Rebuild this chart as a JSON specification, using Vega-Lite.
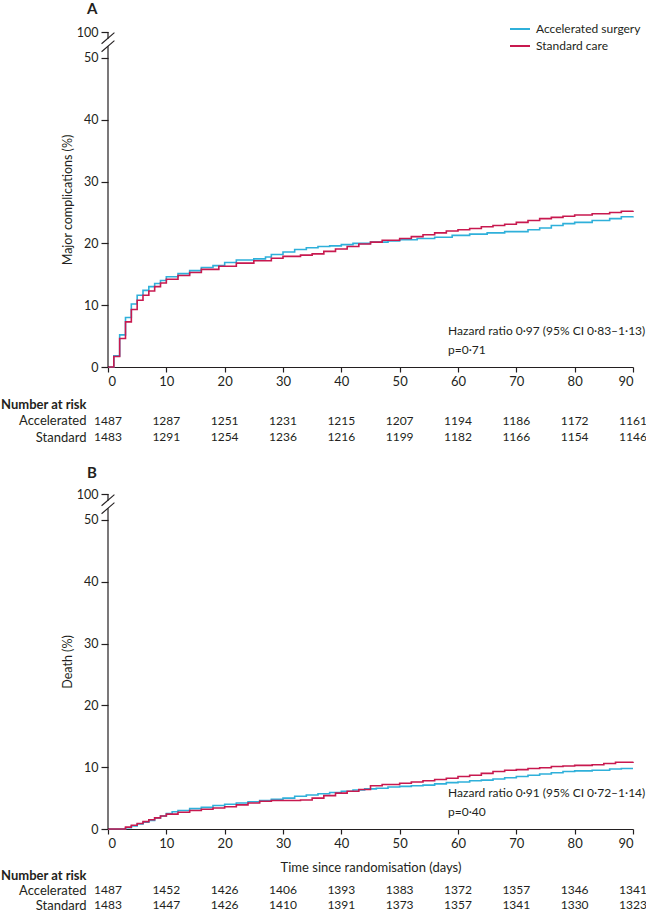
{
  "$schema": "https://vega.github.io/schema/vega-lite/v6.json",
  "padding": {"left": 0, "top": 2, "right": 0, "bottom": 0},
  "config": {
    "font": "Lato",
    "view": {"stroke": null},
    "axis": {"labelFont": "Lato", "titleFont": "Lato", "labelColor": "#231f20", "titleColor": "#231f20", "domainColor": "#231f20", "tickColor": "#231f20", "grid": false, "labelFontSize": 12.5, "titleFontSize": 12.5, "titleFontWeight": "normal", "domainWidth": 1.2, "tickWidth": 1.2},
    "legend": {"labelFont": "Lato", "labelColor": "#231f20"},
    "title": {"font": "Lato", "color": "#231f20"},
    "text": {"font": "Lato"}
  },
  "datasets": {
    "kmA": [
      {"group": "Accelerated surgery", "day": 0, "pct": 0}, {"group": "Accelerated surgery", "day": 1, "pct": 1.8}, {"group": "Accelerated surgery", "day": 2, "pct": 5.2}, {"group": "Accelerated surgery", "day": 3, "pct": 8.0}, {"group": "Accelerated surgery", "day": 4, "pct": 10.2}, {"group": "Accelerated surgery", "day": 5, "pct": 11.6}, {"group": "Accelerated surgery", "day": 6, "pct": 12.4}, {"group": "Accelerated surgery", "day": 7, "pct": 13.0}, {"group": "Accelerated surgery", "day": 8, "pct": 13.5}, {"group": "Accelerated surgery", "day": 9, "pct": 14.0}, {"group": "Accelerated surgery", "day": 10, "pct": 14.6}, {"group": "Accelerated surgery", "day": 12, "pct": 15.1}, {"group": "Accelerated surgery", "day": 14, "pct": 15.6}, {"group": "Accelerated surgery", "day": 16, "pct": 16.1}, {"group": "Accelerated surgery", "day": 18, "pct": 16.4}, {"group": "Accelerated surgery", "day": 20, "pct": 16.9}, {"group": "Accelerated surgery", "day": 22, "pct": 17.3}, {"group": "Accelerated surgery", "day": 25, "pct": 17.5}, {"group": "Accelerated surgery", "day": 27, "pct": 17.8}, {"group": "Accelerated surgery", "day": 28, "pct": 18.2}, {"group": "Accelerated surgery", "day": 30, "pct": 18.6}, {"group": "Accelerated surgery", "day": 32, "pct": 19.0}, {"group": "Accelerated surgery", "day": 34, "pct": 19.3}, {"group": "Accelerated surgery", "day": 36, "pct": 19.5}, {"group": "Accelerated surgery", "day": 38, "pct": 19.6}, {"group": "Accelerated surgery", "day": 40, "pct": 19.8}, {"group": "Accelerated surgery", "day": 42, "pct": 20.0}, {"group": "Accelerated surgery", "day": 45, "pct": 20.2}, {"group": "Accelerated surgery", "day": 48, "pct": 20.4}, {"group": "Accelerated surgery", "day": 50, "pct": 20.6}, {"group": "Accelerated surgery", "day": 53, "pct": 20.8}, {"group": "Accelerated surgery", "day": 56, "pct": 21.0}, {"group": "Accelerated surgery", "day": 59, "pct": 21.3}, {"group": "Accelerated surgery", "day": 62, "pct": 21.5}, {"group": "Accelerated surgery", "day": 65, "pct": 21.7}, {"group": "Accelerated surgery", "day": 68, "pct": 21.9}, {"group": "Accelerated surgery", "day": 72, "pct": 22.2}, {"group": "Accelerated surgery", "day": 74, "pct": 22.5}, {"group": "Accelerated surgery", "day": 76, "pct": 22.9}, {"group": "Accelerated surgery", "day": 78, "pct": 23.2}, {"group": "Accelerated surgery", "day": 80, "pct": 23.4}, {"group": "Accelerated surgery", "day": 83, "pct": 23.7}, {"group": "Accelerated surgery", "day": 86, "pct": 24.0}, {"group": "Accelerated surgery", "day": 88, "pct": 24.3}, {"group": "Accelerated surgery", "day": 90, "pct": 24.4},
      {"group": "Standard care", "day": 0, "pct": 0}, {"group": "Standard care", "day": 1, "pct": 1.7}, {"group": "Standard care", "day": 2, "pct": 4.6}, {"group": "Standard care", "day": 3, "pct": 7.3}, {"group": "Standard care", "day": 4, "pct": 9.3}, {"group": "Standard care", "day": 5, "pct": 10.8}, {"group": "Standard care", "day": 6, "pct": 11.6}, {"group": "Standard care", "day": 7, "pct": 12.3}, {"group": "Standard care", "day": 8, "pct": 13.0}, {"group": "Standard care", "day": 9, "pct": 13.6}, {"group": "Standard care", "day": 10, "pct": 14.2}, {"group": "Standard care", "day": 12, "pct": 14.8}, {"group": "Standard care", "day": 14, "pct": 15.3}, {"group": "Standard care", "day": 16, "pct": 15.8}, {"group": "Standard care", "day": 19, "pct": 16.3}, {"group": "Standard care", "day": 22, "pct": 16.8}, {"group": "Standard care", "day": 25, "pct": 17.2}, {"group": "Standard care", "day": 28, "pct": 17.6}, {"group": "Standard care", "day": 30, "pct": 17.9}, {"group": "Standard care", "day": 33, "pct": 18.1}, {"group": "Standard care", "day": 35, "pct": 18.3}, {"group": "Standard care", "day": 37, "pct": 18.7}, {"group": "Standard care", "day": 39, "pct": 19.1}, {"group": "Standard care", "day": 41, "pct": 19.5}, {"group": "Standard care", "day": 43, "pct": 19.9}, {"group": "Standard care", "day": 45, "pct": 20.2}, {"group": "Standard care", "day": 47, "pct": 20.5}, {"group": "Standard care", "day": 50, "pct": 20.8}, {"group": "Standard care", "day": 52, "pct": 21.1}, {"group": "Standard care", "day": 54, "pct": 21.4}, {"group": "Standard care", "day": 56, "pct": 21.7}, {"group": "Standard care", "day": 58, "pct": 22.0}, {"group": "Standard care", "day": 60, "pct": 22.2}, {"group": "Standard care", "day": 62, "pct": 22.4}, {"group": "Standard care", "day": 64, "pct": 22.7}, {"group": "Standard care", "day": 66, "pct": 22.9}, {"group": "Standard care", "day": 68, "pct": 23.1}, {"group": "Standard care", "day": 70, "pct": 23.4}, {"group": "Standard care", "day": 72, "pct": 23.7}, {"group": "Standard care", "day": 74, "pct": 24.0}, {"group": "Standard care", "day": 76, "pct": 24.2}, {"group": "Standard care", "day": 78, "pct": 24.4}, {"group": "Standard care", "day": 80, "pct": 24.6}, {"group": "Standard care", "day": 83, "pct": 24.8}, {"group": "Standard care", "day": 86, "pct": 25.0}, {"group": "Standard care", "day": 88, "pct": 25.2}, {"group": "Standard care", "day": 90, "pct": 25.3}
    ],
    "kmB": [
      {"group": "Accelerated surgery", "day": 0, "pct": 0}, {"group": "Accelerated surgery", "day": 2, "pct": 0}, {"group": "Accelerated surgery", "day": 3, "pct": 0.2}, {"group": "Accelerated surgery", "day": 4, "pct": 0.5}, {"group": "Accelerated surgery", "day": 5, "pct": 0.8}, {"group": "Accelerated surgery", "day": 6, "pct": 1.1}, {"group": "Accelerated surgery", "day": 7, "pct": 1.4}, {"group": "Accelerated surgery", "day": 8, "pct": 1.8}, {"group": "Accelerated surgery", "day": 9, "pct": 2.1}, {"group": "Accelerated surgery", "day": 10, "pct": 2.5}, {"group": "Accelerated surgery", "day": 11, "pct": 2.8}, {"group": "Accelerated surgery", "day": 12, "pct": 3.0}, {"group": "Accelerated surgery", "day": 14, "pct": 3.3}, {"group": "Accelerated surgery", "day": 16, "pct": 3.5}, {"group": "Accelerated surgery", "day": 18, "pct": 3.8}, {"group": "Accelerated surgery", "day": 20, "pct": 4.0}, {"group": "Accelerated surgery", "day": 22, "pct": 4.2}, {"group": "Accelerated surgery", "day": 24, "pct": 4.4}, {"group": "Accelerated surgery", "day": 26, "pct": 4.6}, {"group": "Accelerated surgery", "day": 28, "pct": 4.8}, {"group": "Accelerated surgery", "day": 30, "pct": 5.0}, {"group": "Accelerated surgery", "day": 32, "pct": 5.3}, {"group": "Accelerated surgery", "day": 34, "pct": 5.5}, {"group": "Accelerated surgery", "day": 36, "pct": 5.7}, {"group": "Accelerated surgery", "day": 38, "pct": 5.9}, {"group": "Accelerated surgery", "day": 40, "pct": 6.1}, {"group": "Accelerated surgery", "day": 42, "pct": 6.3}, {"group": "Accelerated surgery", "day": 44, "pct": 6.5}, {"group": "Accelerated surgery", "day": 46, "pct": 6.6}, {"group": "Accelerated surgery", "day": 48, "pct": 6.8}, {"group": "Accelerated surgery", "day": 50, "pct": 6.9}, {"group": "Accelerated surgery", "day": 52, "pct": 7.0}, {"group": "Accelerated surgery", "day": 54, "pct": 7.1}, {"group": "Accelerated surgery", "day": 56, "pct": 7.3}, {"group": "Accelerated surgery", "day": 58, "pct": 7.5}, {"group": "Accelerated surgery", "day": 60, "pct": 7.6}, {"group": "Accelerated surgery", "day": 62, "pct": 7.8}, {"group": "Accelerated surgery", "day": 64, "pct": 7.9}, {"group": "Accelerated surgery", "day": 66, "pct": 8.1}, {"group": "Accelerated surgery", "day": 68, "pct": 8.3}, {"group": "Accelerated surgery", "day": 70, "pct": 8.5}, {"group": "Accelerated surgery", "day": 72, "pct": 8.7}, {"group": "Accelerated surgery", "day": 74, "pct": 8.9}, {"group": "Accelerated surgery", "day": 76, "pct": 9.1}, {"group": "Accelerated surgery", "day": 78, "pct": 9.3}, {"group": "Accelerated surgery", "day": 80, "pct": 9.4}, {"group": "Accelerated surgery", "day": 83, "pct": 9.5}, {"group": "Accelerated surgery", "day": 86, "pct": 9.7}, {"group": "Accelerated surgery", "day": 88, "pct": 9.8}, {"group": "Accelerated surgery", "day": 90, "pct": 9.8},
      {"group": "Standard care", "day": 0, "pct": 0}, {"group": "Standard care", "day": 2, "pct": 0}, {"group": "Standard care", "day": 3, "pct": 0.3}, {"group": "Standard care", "day": 4, "pct": 0.6}, {"group": "Standard care", "day": 5, "pct": 0.9}, {"group": "Standard care", "day": 6, "pct": 1.2}, {"group": "Standard care", "day": 7, "pct": 1.5}, {"group": "Standard care", "day": 8, "pct": 1.8}, {"group": "Standard care", "day": 9, "pct": 2.1}, {"group": "Standard care", "day": 10, "pct": 2.4}, {"group": "Standard care", "day": 12, "pct": 2.7}, {"group": "Standard care", "day": 14, "pct": 3.0}, {"group": "Standard care", "day": 16, "pct": 3.2}, {"group": "Standard care", "day": 18, "pct": 3.4}, {"group": "Standard care", "day": 20, "pct": 3.6}, {"group": "Standard care", "day": 22, "pct": 3.9}, {"group": "Standard care", "day": 24, "pct": 4.2}, {"group": "Standard care", "day": 26, "pct": 4.5}, {"group": "Standard care", "day": 28, "pct": 4.6}, {"group": "Standard care", "day": 33, "pct": 4.7}, {"group": "Standard care", "day": 35, "pct": 5.0}, {"group": "Standard care", "day": 37, "pct": 5.4}, {"group": "Standard care", "day": 39, "pct": 5.8}, {"group": "Standard care", "day": 41, "pct": 6.1}, {"group": "Standard care", "day": 43, "pct": 6.4}, {"group": "Standard care", "day": 45, "pct": 7.0}, {"group": "Standard care", "day": 47, "pct": 7.2}, {"group": "Standard care", "day": 50, "pct": 7.4}, {"group": "Standard care", "day": 52, "pct": 7.6}, {"group": "Standard care", "day": 54, "pct": 7.8}, {"group": "Standard care", "day": 56, "pct": 8.0}, {"group": "Standard care", "day": 58, "pct": 8.2}, {"group": "Standard care", "day": 60, "pct": 8.5}, {"group": "Standard care", "day": 62, "pct": 8.7}, {"group": "Standard care", "day": 64, "pct": 9.0}, {"group": "Standard care", "day": 66, "pct": 9.3}, {"group": "Standard care", "day": 68, "pct": 9.5}, {"group": "Standard care", "day": 70, "pct": 9.6}, {"group": "Standard care", "day": 72, "pct": 9.8}, {"group": "Standard care", "day": 74, "pct": 9.9}, {"group": "Standard care", "day": 76, "pct": 10.1}, {"group": "Standard care", "day": 78, "pct": 10.2}, {"group": "Standard care", "day": 80, "pct": 10.3}, {"group": "Standard care", "day": 83, "pct": 10.4}, {"group": "Standard care", "day": 85, "pct": 10.6}, {"group": "Standard care", "day": 87, "pct": 10.8}, {"group": "Standard care", "day": 90, "pct": 10.9}
    ],
    "riskA": [
      {"row": "Accelerated", "day": 0, "n": 1487}, {"row": "Accelerated", "day": 10, "n": 1287}, {"row": "Accelerated", "day": 20, "n": 1251}, {"row": "Accelerated", "day": 30, "n": 1231}, {"row": "Accelerated", "day": 40, "n": 1215}, {"row": "Accelerated", "day": 50, "n": 1207}, {"row": "Accelerated", "day": 60, "n": 1194}, {"row": "Accelerated", "day": 70, "n": 1186}, {"row": "Accelerated", "day": 80, "n": 1172}, {"row": "Accelerated", "day": 90, "n": 1161},
      {"row": "Standard", "day": 0, "n": 1483}, {"row": "Standard", "day": 10, "n": 1291}, {"row": "Standard", "day": 20, "n": 1254}, {"row": "Standard", "day": 30, "n": 1236}, {"row": "Standard", "day": 40, "n": 1216}, {"row": "Standard", "day": 50, "n": 1199}, {"row": "Standard", "day": 60, "n": 1182}, {"row": "Standard", "day": 70, "n": 1166}, {"row": "Standard", "day": 80, "n": 1154}, {"row": "Standard", "day": 90, "n": 1146}
    ],
    "riskB": [
      {"row": "Accelerated", "day": 0, "n": 1487}, {"row": "Accelerated", "day": 10, "n": 1452}, {"row": "Accelerated", "day": 20, "n": 1426}, {"row": "Accelerated", "day": 30, "n": 1406}, {"row": "Accelerated", "day": 40, "n": 1393}, {"row": "Accelerated", "day": 50, "n": 1383}, {"row": "Accelerated", "day": 60, "n": 1372}, {"row": "Accelerated", "day": 70, "n": 1357}, {"row": "Accelerated", "day": 80, "n": 1346}, {"row": "Accelerated", "day": 90, "n": 1341},
      {"row": "Standard", "day": 0, "n": 1483}, {"row": "Standard", "day": 10, "n": 1447}, {"row": "Standard", "day": 20, "n": 1426}, {"row": "Standard", "day": 30, "n": 1410}, {"row": "Standard", "day": 40, "n": 1391}, {"row": "Standard", "day": 50, "n": 1373}, {"row": "Standard", "day": 60, "n": 1357}, {"row": "Standard", "day": 70, "n": 1341}, {"row": "Standard", "day": 80, "n": 1330}, {"row": "Standard", "day": 90, "n": 1323}
    ]
  },
  "spacing": 20,
  "resolve": {"scale": {"x": "independent", "y": "independent", "color": "independent"}},
  "vconcat": [
    {
      "bounds": "flush",
      "spacing": 29,
      "resolve": {"scale": {"x": "independent", "y": "independent", "color": "independent"}},
      "vconcat": [
        {
          "width": 525,
          "height": 335,
          "title": {"text": "A", "anchor": "start", "frame": "group", "dx": -21, "offset": 1, "fontSize": 15, "fontWeight": "bold"},
          "layer": [
            {
              "data": {"name": "kmA"},
              "mark": {"type": "line", "interpolate": "step-after", "strokeWidth": 1.6},
              "encoding": {
                "x": {"field": "day", "type": "quantitative", "scale": {"domain": [0, 90], "nice": false}, "axis": {"values": [0, 10, 20, 30, 40, 50, 60, 70, 80, 90], "title": null, "tickSize": 5, "labelPadding": 3, "labelFontSize": 13}},
                "y": {"field": "pct", "type": "quantitative", "scale": {"domain": [0, 54.2], "nice": false}, "axis": {"values": [0, 10, 20, 30, 40, 50, 54.2], "labelExpr": "datum.value > 51 ? '100' : datum.label", "domain": false, "tickSize": 7, "labelPadding": 3, "title": "Major complications (%)", "titlePadding": 2}},
                "color": {"field": "group", "type": "nominal", "scale": {"domain": ["Accelerated surgery", "Standard care"], "range": ["#2fb0da", "#c8194f"]}, "legend": {"title": null, "orient": "none", "legendX": 401, "legendY": -14, "symbolType": "stroke", "symbolSize": 400, "symbolStrokeWidth": 2, "labelFontSize": 12, "labelOffset": 5, "rowPadding": -4}}
              }
            },
            {"data": {"values": [{}]}, "mark": {"type": "rule", "strokeWidth": 1.2, "color": "#231f20"}, "encoding": {"x": {"datum": 0}, "y": {"datum": 0}, "y2": {"datum": 51.9}}},
            {"data": {"values": [{}]}, "mark": {"type": "rule", "strokeWidth": 1.2, "color": "#231f20"}, "encoding": {"x": {"datum": 0}, "y": {"datum": 53.1}, "y2": {"datum": 54.2}}},
            {"data": {"values": [{}]}, "mark": {"type": "rule", "strokeWidth": 1.1, "color": "#231f20"}, "encoding": {"x": {"datum": -1.1}, "x2": {"datum": 1.1}, "y": {"datum": 51.0}, "y2": {"datum": 52.8}}},
            {"data": {"values": [{}]}, "mark": {"type": "rule", "strokeWidth": 1.1, "color": "#231f20"}, "encoding": {"x": {"datum": -1.1}, "x2": {"datum": 1.1}, "y": {"datum": 52.3}, "y2": {"datum": 54.1}}},
            {"data": {"values": [{}]}, "mark": {"type": "text", "align": "left", "baseline": "middle", "fontSize": 12, "color": "#231f20"}, "encoding": {"x": {"datum": 58.3}, "y": {"datum": 5.8}, "text": {"value": "Hazard ratio 0·97 (95% CI 0·83–1·13)"}}},
            {"data": {"values": [{}]}, "mark": {"type": "text", "align": "left", "baseline": "middle", "fontSize": 12, "color": "#231f20"}, "encoding": {"x": {"datum": 58.3}, "y": {"datum": 2.7}, "text": {"value": "p=0·71"}}}
          ]
        },
        {
          "width": 525,
          "height": 49.5,
          "data": {"name": "riskA"},
          "mark": {"type": "text", "fontSize": 12, "color": "#231f20"},
          "encoding": {
            "x": {"field": "day", "type": "quantitative", "scale": {"domain": [0, 90], "nice": false}, "axis": null},
            "y": {"field": "row", "type": "nominal", "scale": {"domain": ["Number at risk", "Accelerated", "Standard"], "paddingInner": 0, "paddingOuter": 0}, "axis": {"title": null, "domain": false, "ticks": false, "labelPadding": 22, "labelFontSize": 13, "labelFontWeight": {"condition": {"test": "datum.value === 'Number at risk'", "value": "bold"}, "value": "normal"}}},
            "text": {"field": "n", "type": "quantitative", "format": "d"}
          }
        }
      ]
    },
    {
      "bounds": "flush",
      "spacing": 38.5,
      "resolve": {"scale": {"x": "independent", "y": "independent", "color": "independent"}},
      "vconcat": [
        {
          "width": 525,
          "height": 335,
          "title": {"text": "B", "anchor": "start", "frame": "group", "dx": -21, "offset": 7, "fontSize": 15, "fontWeight": "bold"},
          "layer": [
            {
              "data": {"name": "kmB"},
              "mark": {"type": "line", "interpolate": "step-after", "strokeWidth": 1.6},
              "encoding": {
                "x": {"field": "day", "type": "quantitative", "scale": {"domain": [0, 90], "nice": false}, "axis": {"values": [0, 10, 20, 30, 40, 50, 60, 70, 80, 90], "title": "Time since randomisation (days)", "titleFontSize": 13, "titlePadding": 11, "tickSize": 5, "labelPadding": 3, "labelFontSize": 13}},
                "y": {"field": "pct", "type": "quantitative", "scale": {"domain": [0, 54.2], "nice": false}, "axis": {"values": [0, 10, 20, 30, 40, 50, 54.2], "labelExpr": "datum.value > 51 ? '100' : datum.label", "domain": false, "tickSize": 7, "labelPadding": 3, "title": "Death (%)", "titlePadding": 2}},
                "color": {"field": "group", "type": "nominal", "scale": {"domain": ["Accelerated surgery", "Standard care"], "range": ["#2fb0da", "#c8194f"]}, "legend": null}
              }
            },
            {"data": {"values": [{}]}, "mark": {"type": "rule", "strokeWidth": 1.2, "color": "#231f20"}, "encoding": {"x": {"datum": 0}, "y": {"datum": 0}, "y2": {"datum": 51.9}}},
            {"data": {"values": [{}]}, "mark": {"type": "rule", "strokeWidth": 1.2, "color": "#231f20"}, "encoding": {"x": {"datum": 0}, "y": {"datum": 53.1}, "y2": {"datum": 54.2}}},
            {"data": {"values": [{}]}, "mark": {"type": "rule", "strokeWidth": 1.1, "color": "#231f20"}, "encoding": {"x": {"datum": -1.1}, "x2": {"datum": 1.1}, "y": {"datum": 51.0}, "y2": {"datum": 52.8}}},
            {"data": {"values": [{}]}, "mark": {"type": "rule", "strokeWidth": 1.1, "color": "#231f20"}, "encoding": {"x": {"datum": -1.1}, "x2": {"datum": 1.1}, "y": {"datum": 52.3}, "y2": {"datum": 54.1}}},
            {"data": {"values": [{}]}, "mark": {"type": "text", "align": "left", "baseline": "middle", "fontSize": 12, "color": "#231f20"}, "encoding": {"x": {"datum": 58.3}, "y": {"datum": 5.8}, "text": {"value": "Hazard ratio 0·91 (95% CI 0·72–1·14)"}}},
            {"data": {"values": [{}]}, "mark": {"type": "text", "align": "left", "baseline": "middle", "fontSize": 12, "color": "#231f20"}, "encoding": {"x": {"datum": 58.3}, "y": {"datum": 2.7}, "text": {"value": "p=0·40"}}}
          ]
        },
        {
          "width": 525,
          "height": 45,
          "data": {"name": "riskB"},
          "mark": {"type": "text", "fontSize": 12, "color": "#231f20"},
          "encoding": {
            "x": {"field": "day", "type": "quantitative", "scale": {"domain": [0, 90], "nice": false}, "axis": null},
            "y": {"field": "row", "type": "nominal", "scale": {"domain": ["Number at risk", "Accelerated", "Standard"], "paddingInner": 0, "paddingOuter": 0}, "axis": {"title": null, "domain": false, "ticks": false, "labelPadding": 22, "labelFontSize": 13, "labelFontWeight": {"condition": {"test": "datum.value === 'Number at risk'", "value": "bold"}, "value": "normal"}}},
            "text": {"field": "n", "type": "quantitative", "format": "d"}
          }
        }
      ]
    }
  ]
}
